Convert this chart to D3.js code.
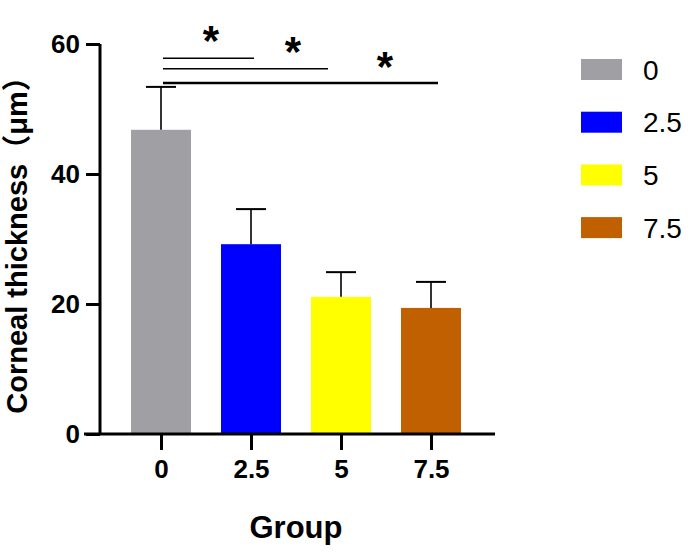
<!DOCTYPE html>
<html><head><meta charset="utf-8">
<script src="https://cdn.jsdelivr.net/npm/d3@7"></script>
<style>body{margin:0;background:#fff}svg{display:block}</style>
</head><body>
<svg id="c" width="695" height="557"></svg>
<script>
const categories = ["0", "2.5", "5", "7.5"];
const means = [46.8, 29.2, 21.1, 19.4];
const sds = [6.6, 5.4, 3.8, 4.0];
const colors = ["#a0a0a4", "#0000ff", "#ffff00", "#c06000"];
const yTicks = [0, 20, 40, 60];
// significance comparisons
const sigFrom = ["0", "0", "0"];
const sigTo = ["2.5", "5", "7.5"];
const sigLineY = [57.8, 56.2, 54.0];
const sigStarY = [62.0, 60.3, 58.0];

const FONT = "'Liberation Sans', Arial, 'Noto Sans CJK SC', sans-serif";
const svg = d3.select("#c");
const y = d3.scaleLinear().domain([0, 60]).range([434, 44]);
const x = d3.scalePoint().domain(categories).range([161, 431]);
const barW = 60;

// bars
svg.selectAll("rect.bar").data(categories).join("rect")
  .attr("x", d => x(d) - barW / 2).attr("width", barW)
  .attr("y", (d, i) => y(means[i])).attr("height", (d, i) => y(0) - y(means[i]))
  .attr("fill", (d, i) => colors[i]);

// error bars
const eg = svg.append("g").attr("stroke", "#000");
categories.forEach((c, i) => {
  eg.append("line").attr("x1", x(c)).attr("x2", x(c))
    .attr("y1", y(means[i])).attr("y2", y(means[i] + sds[i])).attr("stroke-width", 1.6);
  eg.append("line").attr("x1", x(c) - 15).attr("x2", x(c) + 15)
    .attr("y1", y(means[i] + sds[i])).attr("y2", y(means[i] + sds[i])).attr("stroke-width", 2);
});

// axes
const yAxis = svg.append("g").attr("transform", "translate(100,0)")
  .call(d3.axisLeft(y).tickValues(yTicks).tickSize(14).tickPadding(6));
yAxis.select(".domain").remove();
yAxis.append("line").attr("x1", 0).attr("x2", 0).attr("y1", y(0)).attr("y2", y(60))
  .attr("stroke", "#000").attr("stroke-width", 3);
yAxis.selectAll(".tick line").attr("stroke-width", 3);
yAxis.selectAll(".tick text").attr("font-family", FONT).attr("font-weight", "bold")
  .attr("font-size", 26).attr("fill", "#000");

const xAxis = svg.append("g").attr("transform", `translate(0,${y(0)})`)
  .call(d3.axisBottom(x).tickSize(16).tickPadding(10));
xAxis.select(".domain").remove();
xAxis.append("line").attr("x1", 84).attr("x2", 495).attr("y1", 0).attr("y2", 0)
  .attr("stroke", "#000").attr("stroke-width", 3);
xAxis.selectAll(".tick line").attr("stroke-width", 3);
xAxis.selectAll(".tick text").attr("font-family", FONT).attr("font-weight", "bold")
  .attr("font-size", 26).attr("fill", "#000");

// titles
svg.append("text").attr("x", 296).attr("y", 538).attr("text-anchor", "middle")
  .attr("font-family", FONT).attr("font-weight", "bold").attr("font-size", 31).text("Group");
svg.append("text").attr("transform", "translate(27,238) rotate(-90)").attr("text-anchor", "middle")
  .attr("font-family", FONT).attr("font-weight", "bold").attr("font-size", 29)
  .text("Corneal thickness（μm）");

// significance
const lineEndOffset = [3, -13, 7];
const starX = [211, 293, 385];
sigFrom.forEach((f, i) => {
  svg.append("line").attr("x1", x(f) + 2).attr("x2", x(sigTo[i]) + lineEndOffset[i])
    .attr("y1", y(sigLineY[i])).attr("y2", y(sigLineY[i]))
    .attr("stroke", "#000").attr("stroke-width", i === 2 ? 2.4 : 1.6);
  svg.append("text").attr("x", starX[i]).attr("y", y(sigStarY[i]) + 24)
    .attr("text-anchor", "middle").attr("font-family", FONT).attr("font-weight", "bold")
    .attr("font-size", 42).text("*");
});

// legend
const lg = svg.append("g");
categories.forEach((c, i) => {
  const yy = 59 + i * 52.7;
  lg.append("rect").attr("x", 581).attr("y", yy).attr("width", 41).attr("height", 21).attr("fill", colors[i]);
  lg.append("text").attr("x", 643).attr("y", yy + 10.5).attr("dy", "0.36em")
    .attr("font-family", FONT).attr("font-size", 28).text(c);
});
</script>
</body></html>
